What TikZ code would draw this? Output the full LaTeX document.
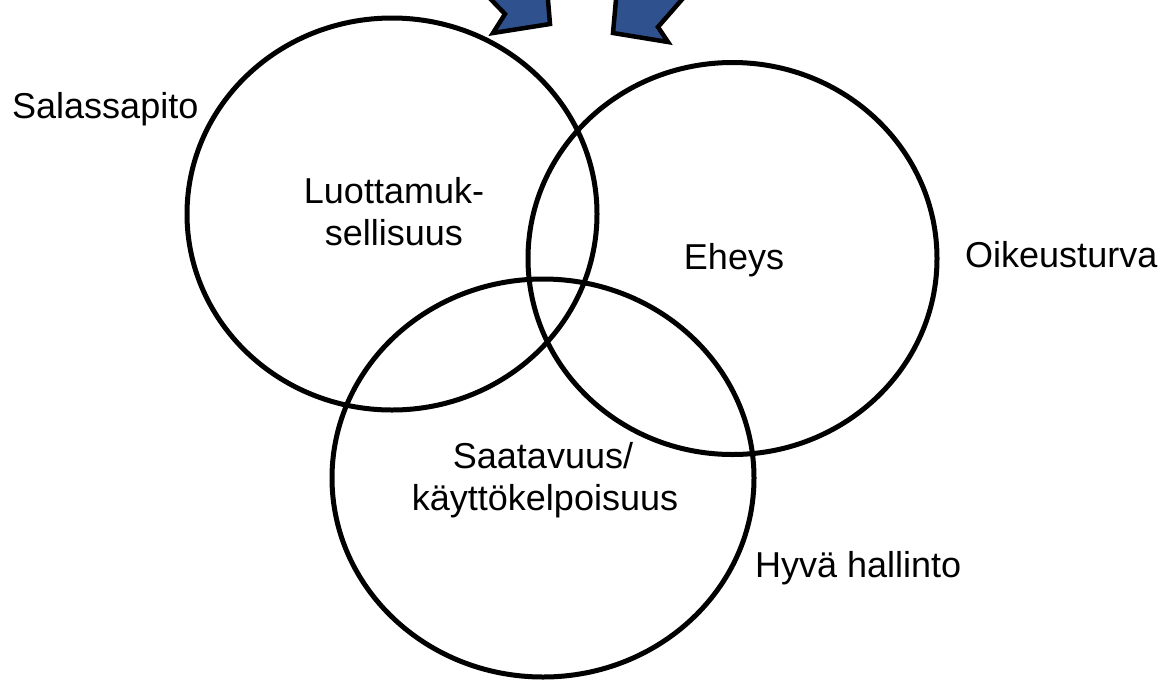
\documentclass[tikz,border=0pt]{standalone}
\usepackage{fontspec}
\setmainfont{Liberation Sans}
\usetikzlibrary{shapes.geometric}
\definecolor{arrowblue}{RGB}{47,82,142}
\tikzset{
  venn/.style={ellipse, draw=black, line width=5pt, inner sep=0pt, outer sep=0pt},
  lbl/.style={font=\fontsize{36}{42}\selectfont, inner sep=0pt, anchor=base},
  blockarrow/.style={fill=arrowblue, draw=black, line width=4.5pt, line join=miter},
}
\begin{document}
\begin{tikzpicture}[x=1pt,y=-1pt]
\useasboundingbox (0,0) rectangle (1172,681);
\clip (0,0) rectangle (1172,681);
% arrows at top
\draw[blockarrow] (480,-12) -- (505,14) -- (493,33) -- (550,24) -- (547,-12) -- cycle;
\draw[blockarrow] (617,-12) -- (613,33) -- (668,42) -- (658,27) -- (692,-12) -- cycle;
% circles
\node[venn, minimum width=410pt, minimum height=392pt] (conf) at (392,214) {};
\node[venn, minimum width=409pt, minimum height=392pt] (integ) at (732.5,258.5) {};
\node[venn, minimum width=422pt, minimum height=398pt] (avail) at (543,478) {};
% labels
\node[lbl, anchor=base west] (sal) at (12,118) {Salassapito};
\node[lbl] (l1) at (394,203) {Luottamuk-};
\node[lbl] (l2) at (394,245) {sellisuus};
\node[lbl] (eh) at (734,269) {Eheys};
\node[lbl, anchor=base west] (oik) at (965,267) {Oikeusturva};
\node[lbl] (s1) at (543,468) {Saatavuus/};
\node[lbl] (s2) at (545,510) {käyttökelpoisuus};
\node[lbl, anchor=base west] (hyv) at (755,577) {Hyvä hallinto};
\end{tikzpicture}
\end{document}
